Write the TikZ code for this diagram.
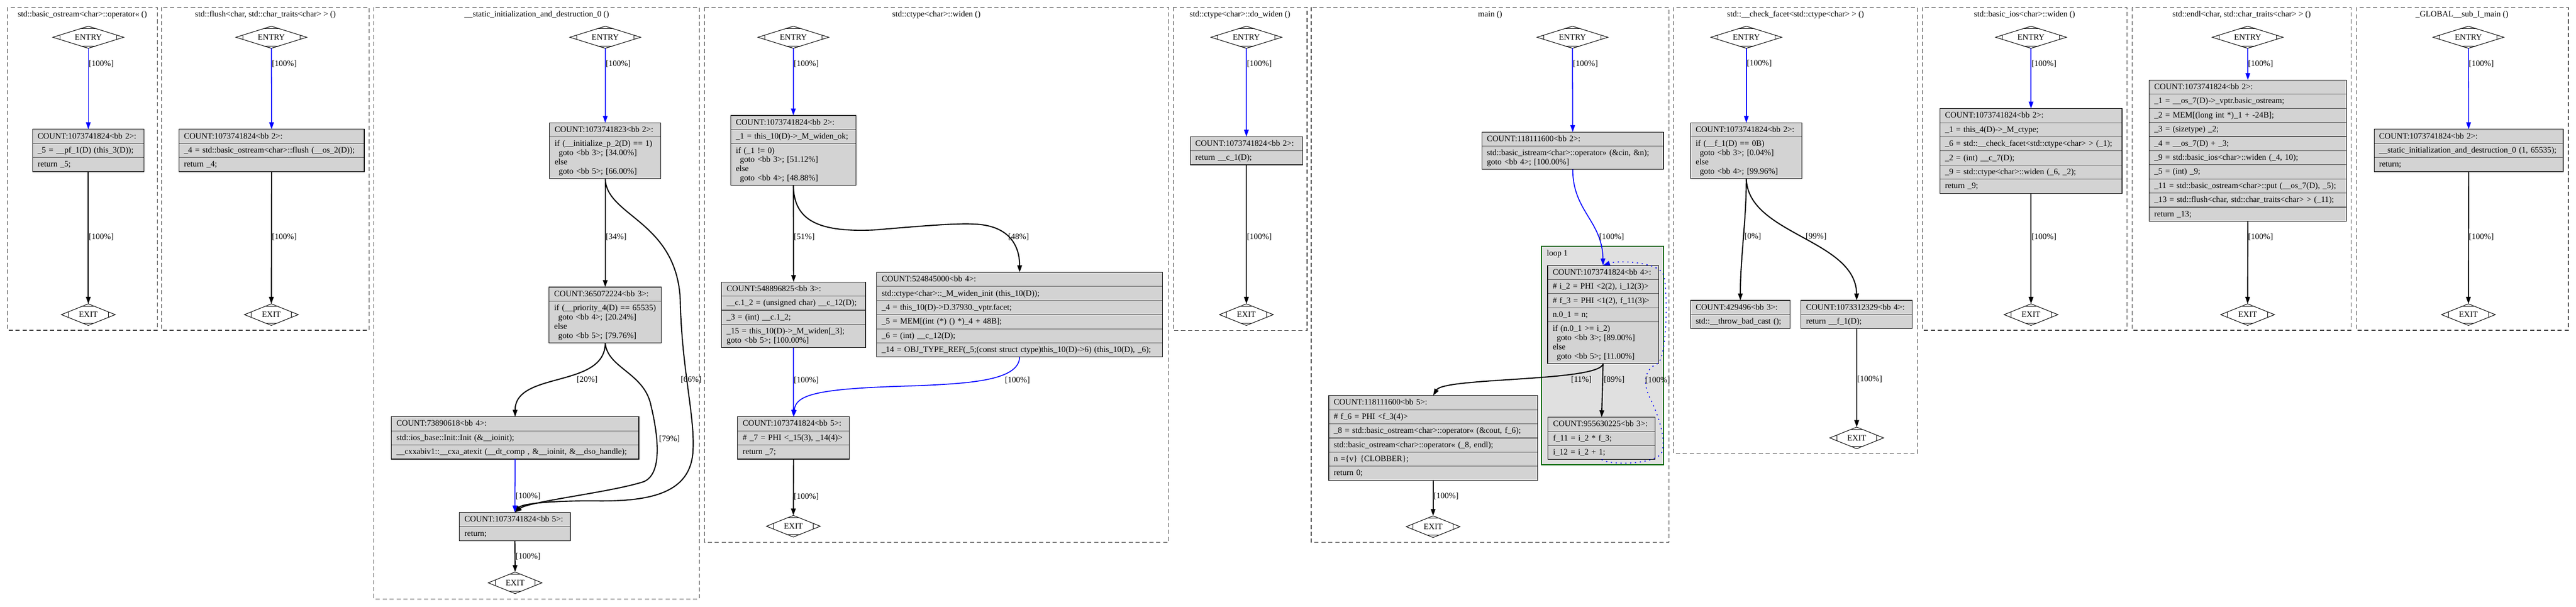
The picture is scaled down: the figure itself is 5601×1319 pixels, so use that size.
\documentclass[tikz,border=0pt]{standalone}
\usepackage{fontspec}
\setmainfont{Liberation Serif}
\usetikzlibrary{arrows.meta,shapes.geometric,fit,calc}
\definecolor{boxgray}{HTML}{D3D3D3}
\definecolor{sepgray}{HTML}{4A4A4A}
\definecolor{clgray}{HTML}{333333}
\definecolor{loopfill}{HTML}{E0E0E0}
\definecolor{loopgreen}{HTML}{006400}
\newcommand\fs{\fontsize{18}{20}\selectfont}
\newcommand\gl[1]{\mbox{\rule[-5pt]{0pt}{20pt}#1}}
\newcommand\gi{\hspace*{9pt}}
\tikzset{
 clus/.style={draw=clgray, line width=1.4pt, dash pattern=on 9pt off 6pt},
 ttl/.style={font=\fs, anchor=base, inner sep=0pt},
 rowb/.style={draw=sepgray, fill=boxgray, line width=1.3pt, outer sep=0pt, inner xsep=11pt, inner ysep=0pt, anchor=north west, align=left, font=\fs, minimum height=30.7pt},
 rtwo/.style={rowb, minimum height=50.7pt},
 rfour/.style={rowb, minimum height=90.7pt},
 obox/.style={draw=black, line width=1.2pt, inner sep=0pt, outer sep=0pt, rectangle},
 dia/.style={diamond, draw=black, line width=1.2pt, fill=white, inner sep=0pt, outer sep=0pt, shape aspect=3.2, font=\fs},
 entryd/.style={dia, minimum width=154pt, minimum height=48pt},
 exitd/.style={dia, minimum width=117pt, minimum height=47pt},
 mdl/.style={draw=black, line width=1.0pt},
 blk/.style={draw=black, line width=2.4pt, -{Triangle[length=15pt,width=10pt]}},
 blu/.style={draw=blue, line width=2.0pt, -{Triangle[length=15pt,width=10pt]}},
 bdot/.style={blu, dash pattern=on 2.5pt off 8pt},
 elab/.style={font=\fs, anchor=base west, inner sep=0pt},
}
\newcommand\ra[4]{\node[rowb,text width=#3pt] (#1) at (#2) {\gl{#4}};}
\newcommand\mdmk[5]{%
 \draw[mdl] ($(#1.west)+(#2,-#3)$) -- ($(#1.west)+(#2,#3)$);
 \draw[mdl] ($(#1.east)+(-#2,-#3)$) -- ($(#1.east)+(-#2,#3)$);
 \draw[mdl] ($(#1.north)+(-#5,#4)$) -- ($(#1.north)+(#5,#4)$);
 \draw[mdl] ($(#1.south)+(-#5,-#4)$) -- ($(#1.south)+(#5,-#4)$);}
\begin{document}
\begin{tikzpicture}[x=1pt,y=-1pt]
\fill[white] (0,0) rectangle (5601,1319);
\useasboundingbox (0,0) rectangle (5601,1319);
% clusters
\draw[clus] (16,16) rectangle (342,718);
\draw[clus] (351,16) rectangle (803,718);
\draw[clus] (813,16) rectangle (1521,1302);
\draw[clus] (1532,16) rectangle (2541,1179);
\draw[clus] (2551,16) rectangle (2842,719);
\draw[clus] (2851,16) rectangle (3629,1179);
\draw[clus] (3639,16) rectangle (4169,986);
\draw[clus] (4180,16) rectangle (4625,718);
\draw[clus] (4636,16) rectangle (5112,718);
\draw[clus] (5123,16) rectangle (5584,718);
\node[ttl] (t1) at (179,36) {std::basic\_ostream<char>::operator<< ()};
\node[ttl] (t2) at (577,36) {std::flush<char, std::char\_traits<char> > ()};
\node[ttl] (t3) at (1167,36) {\_\_static\_initialization\_and\_destruction\_0 ()};
\node[ttl] (t4) at (2036,36) {std::ctype<char>::widen ()};
\node[ttl] (t5) at (2696,36) {std::ctype<char>::do\_widen ()};
\node[ttl] (t6) at (3240,36) {main ()};
\node[ttl] (t7) at (3904,36) {std::\_\_check\_facet<std::ctype<char> > ()};
\node[ttl] (t8) at (4402,36) {std::basic\_ios<char>::widen ()};
\node[ttl] (t9) at (4874,36) {std::endl<char, std::char\_traits<char> > ()};
\node[ttl] (t10) at (5353,36) {\_GLOBAL\_\_sub\_I\_main ()};
% loop cluster
\draw[draw=loopgreen, fill=loopfill, line width=2.2pt] (3352,535) rectangle (3617,1010);
\node[elab] (loopl) at (3363,556) {loop 1};
% entry / exit
\foreach \n/\x/\y in {e1/192/81, e2/590/81, e3/1316/81, e4/1725/81, e5/2710/81, e6/3419/81, e7/3797/81, e8/4416/81, e9/4887/81, e10/5367/81}{
 \node[entryd] (\n) at (\x,\y) {ENTRY};
 \mdmk{\n}{15}{4.7}{5}{16}}
\foreach \n/\x/\y in {x1/192/684, x2/590/684, x3/1120/1267, x4/1725/1144, x5/2710/684, x6/3116/1145, x7/4037/952, x8/4416/684, x9/4887/684, x10/5367/684}{
 \node[exitd] (\n) at (\x,\y) {EXIT};
 \mdmk{\n}{15}{6}{5}{12.4}}
% C1
\ra{c1r1}{71,281}{220}{COUNT:1073741824<bb 2>:}
\ra{c1r2}{c1r1.south west}{220}{\_5 = \_\_pf\_1(D) (this\_3(D));}
\ra{c1r3}{c1r2.south west}{220}{return \_5;}
\node[obox,fit=(c1r1)(c1r3)] (c1b) {};
% C2
\ra{c2r1}{389,281}{381}{COUNT:1073741824<bb 2>:}
\ra{c2r2}{c2r1.south west}{381}{\_4 = std::basic\_ostream<char>::flush (\_\_os\_2(D));}
\ra{c2r3}{c2r2.south west}{381}{return \_4;}
\node[obox,fit=(c2r1)(c2r3)] (c2b) {};
% C3
\ra{c3a1}{1195,267}{220}{COUNT:1073741823<bb 2>:}
\node[rfour,text width=220pt] (c3a2) at (c3a1.south west) {\gl{if (\_\_initialize\_p\_2(D) == 1)}\\\gl{\gi goto <bb 3>; [34.00\%]}\\\gl{else}\\\gl{\gi goto <bb 5>; [66.00\%]}};
\node[obox,fit=(c3a1)(c3a2)] (c3a) {};
\ra{c3b1}{1194,624}{222}{COUNT:365072224<bb 3>:}
\node[rfour,text width=222pt] (c3b2) at (c3b1.south west) {\gl{if (\_\_priority\_4(D) == 65535)}\\\gl{\gi goto <bb 4>; [20.24\%]}\\\gl{else}\\\gl{\gi goto <bb 5>; [79.76\%]}};
\node[obox,fit=(c3b1)(c3b2)] (c3b) {};
\ra{c3c1}{851,906}{516}{COUNT:73890618<bb 4>:}
\ra{c3c2}{c3c1.south west}{516}{std::ios\_base::Init::Init (\&\_\_ioinit);}
\ra{c3c3}{c3c2.south west}{516}{\_\_cxxabiv1::\_\_cxa\_atexit (\_\_dt\_comp , \&\_\_ioinit, \&\_\_dso\_handle);}
\node[obox,fit=(c3c1)(c3c3)] (c3c) {};
\ra{c3d1}{999,1114}{219}{COUNT:1073741824<bb 5>:}
\ra{c3d2}{c3d1.south west}{219}{return;}
\node[obox,fit=(c3d1)(c3d2)] (c3d) {};
% C4
\ra{c4a1}{1589,251}{250}{COUNT:1073741824<bb 2>:}
\ra{c4a2}{c4a1.south west}{250}{\_1 = this\_10(D)->\_M\_widen\_ok;}
\node[rfour,text width=250pt] (c4a3) at (c4a2.south west) {\gl{if (\_1 != 0)}\\\gl{\gi goto <bb 3>; [51.12\%]}\\\gl{else}\\\gl{\gi goto <bb 4>; [48.88\%]}};
\node[obox,fit=(c4a1)(c4a3)] (c4a) {};
\ra{c4b1}{1569,613}{291}{COUNT:548896825<bb 3>:}
\ra{c4b2}{c4b1.south west}{291}{\_\_c.1\_2 = (unsigned char) \_\_c\_12(D);}
\ra{c4b3}{c4b2.south west}{291}{\_3 = (int) \_\_c.1\_2;}
\node[rtwo,text width=291pt] (c4b4) at (c4b3.south west) {\gl{\_15 = this\_10(D)->\_M\_widen[\_3];}\\\gl{goto <bb 5>; [100.00\%]}};
\node[obox,fit=(c4b1)(c4b4)] (c4b) {};
\ra{c4c1}{1906,592}{600}{COUNT:524845000<bb 4>:}
\ra{c4c2}{c4c1.south west}{600}{std::ctype<char>::\_M\_widen\_init (this\_10(D));}
\ra{c4c3}{c4c2.south west}{600}{\_4 = this\_10(D)->D.37930.\_vptr.facet;}
\ra{c4c4}{c4c3.south west}{600}{\_5 = MEM[(int (*) () *)\_4 + 48B];}
\ra{c4c5}{c4c4.south west}{600}{\_6 = (int) \_\_c\_12(D);}
\ra{c4c6}{c4c5.south west}{600}{\_14 = OBJ\_TYPE\_REF(\_5;(const struct ctype)this\_10(D)->6) (this\_10(D), \_6);}
\node[obox,fit=(c4c1)(c4c6)] (c4c) {};
\ra{c4d1}{1604,906}{221}{COUNT:1073741824<bb 5>:}
\ra{c4d2}{c4d1.south west}{221}{\# \_7 = PHI <\_15(3), \_14(4)>}
\ra{c4d3}{c4d2.south west}{221}{return \_7;}
\node[obox,fit=(c4d1)(c4d3)] (c4d) {};
% C5
\ra{c5r1}{2588,297}{222}{COUNT:1073741824<bb 2>:}
\ra{c5r2}{c5r1.south west}{222}{return \_\_c\_1(D);}
\node[obox,fit=(c5r1)(c5r2)] (c5b) {};
% C6
\ra{c6a1}{3222,287}{373}{COUNT:118111600<bb 2>:}
\node[rtwo,text width=373pt] (c6a2) at (c6a1.south west) {\gl{std::basic\_istream<char>::operator>> (\&cin, \&n);}\\\gl{goto <bb 4>; [100.00\%]}};
\node[obox,fit=(c6a1)(c6a2)] (c6a) {};
\ra{c6b1}{3365,577}{219}{COUNT:1073741824<bb 4>:}
\ra{c6b2}{c6b1.south west}{219}{\# i\_2 = PHI <2(2), i\_12(3)>}
\ra{c6b3}{c6b2.south west}{219}{\# f\_3 = PHI <1(2), f\_11(3)>}
\ra{c6b4}{c6b3.south west}{219}{n.0\_1 = n;}
\node[rfour,text width=219pt] (c6b5) at (c6b4.south west) {\gl{if (n.0\_1 >= i\_2)}\\\gl{\gi goto <bb 3>; [89.00\%]}\\\gl{else}\\\gl{\gi goto <bb 5>; [11.00\%]}};
\node[obox,fit=(c6b1)(c6b5)] (c6b) {};
\ra{c6c1}{3366,907}{211}{COUNT:955630225<bb 3>:}
\ra{c6c2}{c6c1.south west}{211}{f\_11 = i\_2 * f\_3;}
\ra{c6c3}{c6c2.south west}{211}{i\_12 = i\_2 + 1;}
\node[obox,fit=(c6c1)(c6c3)] (c6c) {};
\ra{c6d1}{2889,860}{432}{COUNT:118111600<bb 5>:}
\ra{c6d2}{c6d1.south west}{432}{\# f\_6 = PHI <f\_3(4)>}
\ra{c6d3}{c6d2.south west}{432}{\_8 = std::basic\_ostream<char>::operator<< (\&cout, f\_6);}
\ra{c6d4}{c6d3.south west}{432}{std::basic\_ostream<char>::operator<< (\_8, endl);}
\ra{c6d5}{c6d4.south west}{432}{n =\{v\} \{CLOBBER\};}
\ra{c6d6}{c6d5.south west}{432}{return 0;}
\node[obox,fit=(c6d1)(c6d6)] (c6d) {};
% C7
\ra{c7a1}{3676,267}{220}{COUNT:1073741824<bb 2>:}
\node[rfour,text width=220pt] (c7a2) at (c7a1.south west) {\gl{if (\_\_f\_1(D) == 0B)}\\\gl{\gi goto <bb 3>; [0.04\%]}\\\gl{else}\\\gl{\gi goto <bb 4>; [99.96\%]}};
\node[obox,fit=(c7a1)(c7a2)] (c7a) {};
\ra{c7b1}{3676,653}{194}{COUNT:429496<bb 3>:}
\ra{c7b2}{c7b1.south west}{194}{std::\_\_throw\_bad\_cast ();}
\node[obox,fit=(c7b1)(c7b2)] (c7b) {};
\ra{c7c1}{3916,653}{220}{COUNT:1073312329<bb 4>:}
\ra{c7c2}{c7c1.south west}{220}{return \_\_f\_1(D);}
\node[obox,fit=(c7c1)(c7c2)] (c7c) {};
% C8
\ra{c8r1}{4218,236}{374}{COUNT:1073741824<bb 2>:}
\ra{c8r2}{c8r1.south west}{374}{\_1 = this\_4(D)->\_M\_ctype;}
\ra{c8r3}{c8r2.south west}{374}{\_6 = std::\_\_check\_facet<std::ctype<char> > (\_1);}
\ra{c8r4}{c8r3.south west}{374}{\_2 = (int) \_\_c\_7(D);}
\ra{c8r5}{c8r4.south west}{374}{\_9 = std::ctype<char>::widen (\_6, \_2);}
\ra{c8r6}{c8r5.south west}{374}{return \_9;}
\node[obox,fit=(c8r1)(c8r6)] (c8b) {};
% C9
\ra{c9r1}{4673,174}{407}{COUNT:1073741824<bb 2>:}
\ra{c9r2}{c9r1.south west}{407}{\_1 = \_\_os\_7(D)->\_vptr.basic\_ostream;}
\ra{c9r3}{c9r2.south west}{407}{\_2 = MEM[(long int *)\_1 + -24B];}
\ra{c9r4}{c9r3.south west}{407}{\_3 = (sizetype) \_2;}
\ra{c9r5}{c9r4.south west}{407}{\_4 = \_\_os\_7(D) + \_3;}
\ra{c9r6}{c9r5.south west}{407}{\_9 = std::basic\_ios<char>::widen (\_4, 10);}
\ra{c9r7}{c9r6.south west}{407}{\_5 = (int) \_9;}
\ra{c9r8}{c9r7.south west}{407}{\_11 = std::basic\_ostream<char>::put (\_\_os\_7(D), \_5);}
\ra{c9r9}{c9r8.south west}{407}{\_13 = std::flush<char, std::char\_traits<char> > (\_11);}
\ra{c9r10}{c9r9.south west}{407}{return \_13;}
\node[obox,fit=(c9r1)(c9r10)] (c9b) {};
% C10
\ra{c10r1}{5162,281}{389}{COUNT:1073741824<bb 2>:}
\ra{c10r2}{c10r1.south west}{389}{\_\_static\_initialization\_and\_destruction\_0 (1, 65535);}
\ra{c10r3}{c10r2.south west}{389}{return;}
\node[obox,fit=(c10r1)(c10r3)] (c10b) {};
% edges
\draw[blu] (e1.south) -- (c1b.north);
\draw[blk] (c1b.south) -- (x1.north);
\draw[blu] (e2.south) -- (c2b.north);
\draw[blk] (c2b.south) -- (x2.north);
\draw[blu] (e3.south) -- (c3a.north);
\draw[blk] (c3a.south) -- (c3b.north);
\draw[blk] (c3a.south) .. controls (1318,470) and (1470,480) .. (1479,650) .. controls (1482,800) and (1510,900) .. (1507,975) .. controls (1505,1070) and (1420,1090) .. (1300,1089) .. controls (1200,1088) and (1135,1095) .. (c3d.north);
\draw[blk] (c3b.south) .. controls (1316,845) and (1120,806) .. (c3c.north);
\draw[blk] (c3b.south) .. controls (1320,800) and (1400,810) .. (1415,880) .. controls (1432,950) and (1440,1030) .. (1400,1047) .. controls (1330,1070) and (1150,1090) .. (c3d.north);
\draw[blu] (c3c.south) -- (c3d.north);
\draw[blk] (c3d.south) -- (x3.north);
\draw[blu] (e4.south) -- (c4a.north);
\draw[blk] (c4a.south) -- (c4b.north);
\draw[blk] (c4a.south) .. controls (1726,480) and (1780,505) .. (1900,500) .. controls (2020,490) and (2090,484) .. (2130,488) .. controls (2200,495) and (2217,540) .. (c4c.north);
\draw[blu] (c4b.south) -- (c4d.north);
\draw[blu] (c4c.south) .. controls (2215,830) and (2100,835) .. (1950,840) .. controls (1770,846) and (1730,860) .. (c4d.north);
\draw[blk] (c4d.south) -- (x4.north);
\draw[blu] (e5.south) -- (c5b.north);
\draw[blk] (c5b.south) -- (x5.north);
\draw[blu] (e6.south) -- (c6a.north);
\draw[blu] (c6a.south) .. controls (3420,460) and (3484,480) .. (c6b.north);
\draw[blk] (c6b.south) -- (c6c.north);
\draw[blk] (c6b.south) .. controls (3480,830) and (3140,820) .. (c6d.north);
\draw[bdot] (c6c.south) .. controls (3500,1012) and (3600,1010) .. (3613,984) .. controls (3625,950) and (3600,890) .. (3585,860) .. controls (3570,825) and (3580,800) .. (3605,790) .. controls (3625,770) and (3626,640) .. (3618,600) .. controls (3612,570) and (3520,565) .. (c6b.north);
\draw[blk] (c6d.south) -- (x6.north);
\draw[blu] (e7.south) -- (c7a.north);
\draw[blk] (c7a.south) .. controls (3797,480) and (3784,560) .. (c7b.north);
\draw[blk] (c7a.south) .. controls (3800,510) and (4035,520) .. (c7c.north);
\draw[blk] (c7c.south) -- (x7.north);
\draw[blu] (e8.south) -- (c8b.north);
\draw[blk] (c8b.south) -- (x8.north);
\draw[blu] (e9.south) -- (c9b.north);
\draw[blk] (c9b.south) -- (x9.north);
\draw[blu] (e10.south) -- (c10b.north);
\draw[blk] (c10b.south) -- (x10.north);
% edge labels
\node[elab] (l1a) at (193,144) {[100\%]};
\node[elab] (l1b) at (193,520) {[100\%]};
\node[elab] (l2a) at (591,144) {[100\%]};
\node[elab] (l2b) at (591,520) {[100\%]};
\node[elab] (l3a) at (1317,144) {[100\%]};
\node[elab] (l3b) at (1317,520) {[34\%]};
\node[elab] (l3c) at (1480,831) {[66\%]};
\node[elab] (l3d) at (1254,831) {[20\%]};
\node[elab] (l3e) at (1433,959) {[79\%]};
\node[elab] (l3f) at (1121,1084) {[100\%]};
\node[elab] (l3g) at (1121,1215) {[100\%]};
\node[elab] (l4a) at (1726,144) {[100\%]};
\node[elab] (l4b) at (1726,520) {[51\%]};
\node[elab] (l4c) at (2192,520) {[48\%]};
\node[elab] (l4d) at (1726,832) {[100\%]};
\node[elab] (l4e) at (2185,832) {[100\%]};
\node[elab] (l4f) at (1726,1085) {[100\%]};
\node[elab] (l5a) at (2711,144) {[100\%]};
\node[elab] (l5b) at (2711,520) {[100\%]};
\node[elab] (l6a) at (3420,144) {[100\%]};
\node[elab] (l6b) at (3477,520) {[100\%]};
\node[elab] (l6c) at (3416,831) {[11\%]};
\node[elab] (l6d) at (3487,831) {[89\%]};
\node[elab] (l6e) at (3577,832) {[100\%]};
\node[elab] (l6f) at (3117,1084) {[100\%]};
\node[elab] (l7a) at (3798,143) {[100\%]};
\node[elab] (l7b) at (3793,519) {[0\%]};
\node[elab] (l7c) at (3926,519) {[99\%]};
\node[elab] (l7d) at (4038,830) {[100\%]};
\node[elab] (l8a) at (4417,144) {[100\%]};
\node[elab] (l8b) at (4417,520) {[100\%]};
\node[elab] (l9a) at (4888,144) {[100\%]};
\node[elab] (l9b) at (4888,520) {[100\%]};
\node[elab] (l10a) at (5368,144) {[100\%]};
\node[elab] (l10b) at (5368,520) {[100\%]};
\end{tikzpicture}
\end{document}
